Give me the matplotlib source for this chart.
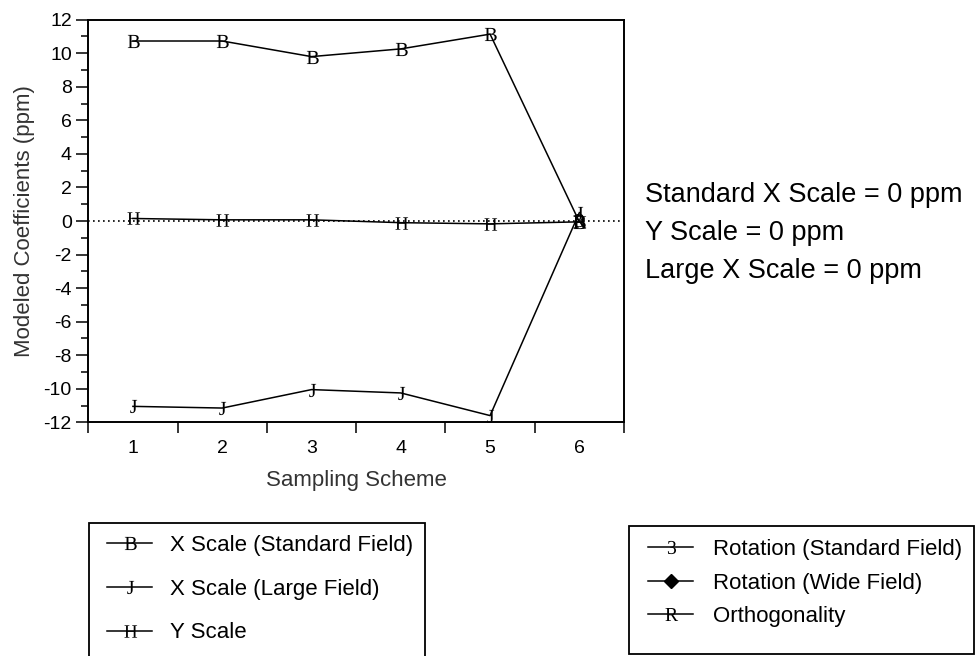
import numpy as np
import matplotlib
matplotlib.use('Agg')
import matplotlib.pyplot as plt
from matplotlib.patches import Rectangle
from matplotlib.textpath import TextPath
from matplotlib.path import Path
from matplotlib.font_manager import FontProperties
from matplotlib.ticker import FixedLocator, NullFormatter, FixedFormatter

plt.rcParams['font.family'] = ['Liberation Sans', 'DejaVu Sans']
plt.rcParams['axes.unicode_minus'] = False

# data
schemes = [1, 2, 3, 4, 5, 6]
x_scale_std = [10.73, 10.73, 9.80, 10.26, 11.14, -0.05]
x_scale_large = [-11.05, -11.15, -10.05, -10.25, -11.6, 0.5]
y_scale = [0.15, 0.07, 0.07, -0.1, -0.17, -0.05]
rot_std_x, rot_std = [6], [0.05]
rot_wide_x, rot_wide = [], []
ortho_x, ortho = [6], [0.0]

tick_labels = ['1', '2', '3', '4', '5', '6']
summary = ['Standard X Scale = 0 ppm', 'Y Scale = 0 ppm', 'Large X Scale = 0 ppm']


def glyph(ch):
    # letter marker in a thin serif face, centred on the point
    tp = TextPath((0, 0), ch, size=10, prop=FontProperties(family='Liberation Serif'))
    v = tp.vertices.copy()
    v = v - (v.min(axis=0) + v.max(axis=0)) / 2
    return Path(v, tp.codes)


W, H = 975, 656
fig = plt.figure(figsize=(9.75, 6.56), dpi=100)
ax = fig.add_axes([88.3 / W, 1 - 422.3 / H, 535.7 / W, 402.6 / H])

lw = 1.1
ms = 9.5
l1, = ax.plot(schemes, x_scale_std, color='black', lw=lw, marker=glyph('B'), ms=ms, mew=0,
              label='X Scale (Standard Field)')
l2, = ax.plot(schemes, x_scale_large, color='black', lw=lw, marker=glyph('J'), ms=ms, mew=0,
              label='X Scale (Large Field)')
l3, = ax.plot(schemes, y_scale, color='black', lw=lw, marker=glyph('H'), ms=ms, mew=0,
              label='Y Scale')
l4, = ax.plot(rot_std_x, rot_std, color='black', lw=lw, marker=glyph('3'), ms=ms, mew=0,
              label='Rotation (Standard Field)')
l5, = ax.plot(rot_wide_x, rot_wide, color='black', lw=lw, marker='D', ms=7,
              label='Rotation (Wide Field)')
l6, = ax.plot(ortho_x, ortho, color='black', lw=lw, marker=glyph('R'), ms=ms, mew=0,
              label='Orthogonality')

ax.axhline(0, color='black', lw=1.2, linestyle=(0, (1, 2)), zorder=1)

ax.set_xlim(0.5, 6.5)
ax.set_ylim(-12, 12)

# x: tick marks between schemes, labels on the schemes
ax.xaxis.set_major_locator(FixedLocator(np.arange(0.5, 7, 1.0)))
ax.xaxis.set_major_formatter(NullFormatter())
ax.xaxis.set_minor_locator(FixedLocator(schemes))
ax.xaxis.set_minor_formatter(FixedFormatter(tick_labels))
ax.tick_params(axis='x', which='major', direction='out', length=8, width=1.1)
ax.tick_params(axis='x', which='minor', length=0, pad=13, labelsize=14)

ax.set_yticks(np.arange(-12, 13, 2))
ax.set_yticks(np.arange(-11, 12, 2), minor=True)
ax.tick_params(axis='y', which='major', direction='out', length=8.4, width=1.1, pad=3.5, labelsize=14)
ax.tick_params(axis='y', which='minor', direction='out', length=5, width=1.1)

for s in ax.spines.values():
    s.set_linewidth(1.4)

ax.set_xlabel('Sampling Scheme', fontsize=16, color='#333333')
ax.set_ylabel('Modeled Coefficients (ppm)', fontsize=16, color='#333333')
ax.xaxis.set_label_coords(0.5, -0.1185)
ax.yaxis.set_label_coords(-0.100, 0.5)

for i, s in enumerate(summary):
    fig.text(645 / W, 1 - (201.7 + 38.3 * i) / H, s, fontsize=19.5, va='baseline', ha='left')

# legend frames
fig.add_artist(Rectangle((89 / W, 1 - 720 / H), (425 - 89) / W, (720 - 523) / H,
                         transform=fig.transFigure, fill=False, lw=1.3, ec='black'))
fig.add_artist(Rectangle((629 / W, 1 - 654 / H), (974 - 629) / W, (654 - 526) / H,
                         transform=fig.transFigure, fill=False, lw=1.3, ec='black'))

leg1 = fig.legend(handles=[l1, l2, l3], loc='center left', bbox_to_anchor=(107 / W, 1 - 589 / H),
                  frameon=False, fontsize=16, borderpad=0, borderaxespad=0, handlelength=2.03,
                  handletextpad=0.8, labelspacing=1.03, numpoints=1)
leg2 = fig.legend(handles=[l4, l5, l6], loc='center left', bbox_to_anchor=(648 / W, 1 - 583 / H),
                  frameon=False, fontsize=16, borderpad=0, borderaxespad=0, handlelength=2.03,
                  handletextpad=0.9, labelspacing=0.55, numpoints=1)

fig.savefig('out.png', dpi=100)
